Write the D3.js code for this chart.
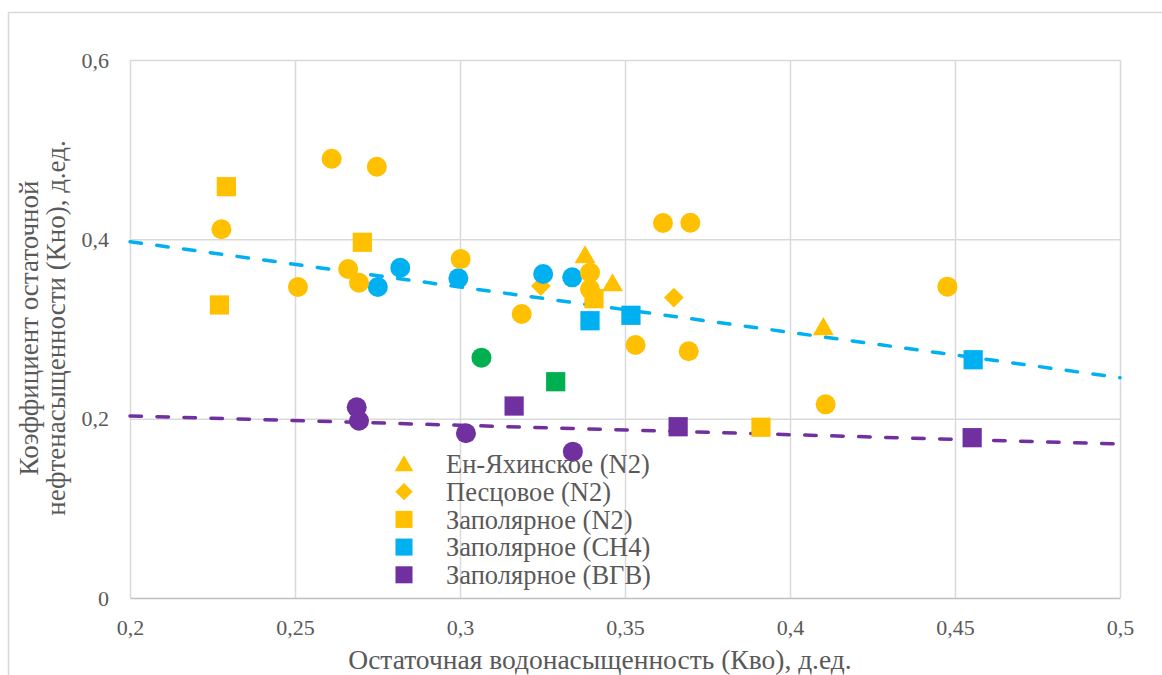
<!DOCTYPE html>
<html>
<head>
<meta charset="utf-8">
<script src="https://cdn.jsdelivr.net/npm/d3@7"></script>
<style>
  html, body { margin: 0; padding: 0; background: #fff; }
  svg { display: block; }
</style>
</head>
<body>
<svg id="chart" width="1162" height="675"></svg>
<script>
// Kво (x) and Kно (y) pairs for each field / displacing agent
const enYakhinskoeN2 = [[0.3379, 0.3822], [0.3462, 0.3510], [0.4101, 0.3020]];
const pestsovoeN2 = [[0.3245, 0.3479], [0.3648, 0.3351]];
const zapolyarnoeN2 = [[0.2292, 0.4587], [0.2271, 0.3268], [0.2704, 0.3967], [0.3406, 0.3338], [0.3912, 0.1904]];
const zapolyarnoeCH4 = [[0.3394, 0.3092], [0.3518, 0.3153], [0.4555, 0.2657]];
const zapolyarnoeVGV = [[0.3164, 0.2141], [0.3661, 0.1910], [0.4552, 0.1788]];
const greenSquares = [[0.3290, 0.2412]];
const yellowCircles = [
  [0.2277, 0.4112], [0.2611, 0.4899], [0.2748, 0.4810], [0.2509, 0.3468],
  [0.2661, 0.3669], [0.2694, 0.3516], [0.3002, 0.3780], [0.3187, 0.3167],
  [0.3394, 0.3628], [0.3394, 0.3443], [0.3615, 0.4182], [0.3698, 0.4185],
  [0.3532, 0.2821], [0.3693, 0.2752], [0.4477, 0.3472], [0.4108, 0.2160]
];
const blueCircles = [[0.2751, 0.3468], [0.2819, 0.3683], [0.2995, 0.3565], [0.3252, 0.3613], [0.3340, 0.3576]];
const greenCircles = [[0.3065, 0.2680]];
const purpleCircles = [[0.2687, 0.2127], [0.2694, 0.1977], [0.3018, 0.1837], [0.3342, 0.1632]];

// Linear trend lines (endpoints over the axis range)
const trendCH4 = [[0.2, 0.3974], [0.5, 0.2457]];
const trendVGV = [[0.2, 0.2031], [0.5, 0.1717]];

const xTicks = [0.2, 0.25, 0.3, 0.35, 0.4, 0.45, 0.5];
const yTicks = [0, 0.2, 0.4, 0.6];
const xTitle = "Остаточная водонасыщенность (Кво), д.ед.";
const yTitleLines = ["Коэффициент остаточной", "нефтенасыщенности (Кно), д.ед."];

const legendItems = [
  { label: "Ен-Яхинское (N2)", shape: "triangle", color: "#FFC000" },
  { label: "Песцовое (N2)", shape: "diamond", color: "#FFC000" },
  { label: "Заполярное (N2)", shape: "square", color: "#FFC000" },
  { label: "Заполярное (CH4)", shape: "square", color: "#00B0F0" },
  { label: "Заполярное (ВГВ)", shape: "square", color: "#7030A0" }
];

const YELLOW = "#FFC000", BLUE = "#00B0F0", PURPLE = "#7030A0", GREEN = "#00B050";
const TEXT = "#595959";
const FONT = "'Liberation Serif', 'Times New Roman', serif";

const svg = d3.select("#chart");
const plot = { left: 130, right: 1120, top: 60, bottom: 598 };

const x = d3.scaleLinear().domain([0.2, 0.5]).range([plot.left, plot.right]);
const y = d3.scaleLinear().domain([0, 0.6]).range([plot.bottom, plot.top]);

const fmt = d => String(+d.toFixed(2)).replace(".", ",");

// Chart-area frame
svg.append("rect")
  .attr("x", 8.5).attr("y", 12.5)
  .attr("width", 1170).attr("height", 700)
  .attr("fill", "none").attr("stroke", "#d9d9d9").attr("stroke-width", 1.5);

// Gridlines
const grid = svg.append("g");
grid.append("g")
  .attr("transform", `translate(0,${plot.bottom})`)
  .call(d3.axisBottom(x).tickValues(xTicks).tickSize(-(plot.bottom - plot.top)).tickFormat(""))
  .call(g => g.select(".domain").remove())
  .call(g => g.selectAll("line").attr("stroke", "#d9d9d9").attr("stroke-width", 1.5));
grid.append("g")
  .attr("transform", `translate(${plot.left},0)`)
  .call(d3.axisLeft(y).tickValues(yTicks.filter(v => v > 0)).tickSize(-(plot.right - plot.left)).tickFormat(""))
  .call(g => g.select(".domain").remove())
  .call(g => g.selectAll("line").attr("stroke", "#d9d9d9").attr("stroke-width", 1.5));

// X axis
const xAxis = svg.append("g")
  .attr("transform", `translate(0,${plot.bottom})`)
  .call(d3.axisBottom(x).tickValues(xTicks).tickSize(0).tickPadding(21).tickFormat(fmt));
xAxis.select(".domain").attr("stroke", "#bfbfbf").attr("stroke-width", 1.5);
xAxis.selectAll("text").attr("fill", TEXT).style("font-size", "22px").style("font-family", FONT);

// Y axis labels
const yAxis = svg.append("g")
  .attr("transform", `translate(${plot.left},0)`)
  .call(d3.axisLeft(y).tickValues(yTicks).tickSize(0).tickPadding(21).tickFormat(fmt));
yAxis.select(".domain").remove();
yAxis.selectAll("text").attr("fill", TEXT).style("font-size", "22px").style("font-family", FONT);

// Axis titles
svg.append("text")
  .attr("x", 600).attr("y", 669)
  .attr("text-anchor", "middle")
  .attr("fill", TEXT)
  .style("font-size", "27.5px").style("font-family", FONT)
  .text(xTitle);

const yTitle = svg.append("text")
  .attr("transform", "translate(0,328) rotate(-90)")
  .attr("text-anchor", "middle")
  .attr("fill", TEXT)
  .style("font-size", "27px").style("font-family", FONT);
yTitleLines.forEach((t, i) => {
  yTitle.append("tspan").attr("x", 0).attr("y", 38 + i * 27).text(t);
});

// Trend lines
const line = d3.line().x(d => x(d[0])).y(d => y(d[1]));
[[trendCH4, BLUE], [trendVGV, PURPLE]].forEach(([data, color]) => {
  svg.append("path")
    .datum(data)
    .attr("d", line)
    .attr("fill", "none")
    .attr("stroke", color)
    .attr("stroke-width", 3.5)
    .attr("stroke-linecap", "round")
    .attr("stroke-dasharray", "11.5 15.5");
});

// Markers
const symbolFor = { triangle: d3.symbolTriangle, diamond: d3.symbolSquare, square: d3.symbolSquare, circle: d3.symbolCircle };
const area = { triangle: 190, diamond: 196, square: 370, circle: 314 };
const rotation = { triangle: 0, diamond: 45, square: 0, circle: 0 };
const shiftY = { triangle: 2, diamond: 0, square: 0, circle: 0 };

function drawPoints(data, shape, color) {
  const sym = d3.symbol().type(symbolFor[shape]).size(area[shape]);
  svg.append("g").selectAll("path")
    .data(data)
    .join("path")
    .attr("d", sym)
    .attr("transform", d => `translate(${x(d[0])},${y(d[1]) + shiftY[shape]}) rotate(${rotation[shape]})`)
    .attr("fill", color);
}

drawPoints(pestsovoeN2, "diamond", YELLOW);
drawPoints(enYakhinskoeN2, "triangle", YELLOW);
drawPoints(zapolyarnoeN2, "square", YELLOW);
drawPoints(zapolyarnoeCH4, "square", BLUE);
drawPoints(zapolyarnoeVGV, "square", PURPLE);
drawPoints(greenSquares, "square", GREEN);
drawPoints(blueCircles, "circle", BLUE);
drawPoints(yellowCircles, "circle", YELLOW);
drawPoints(greenCircles, "circle", GREEN);
drawPoints(purpleCircles, "circle", PURPLE);

// Legend
const legendSize = { triangle: 150, diamond: 150, square: 290 };
const legend = svg.append("g").attr("transform", "translate(404,464)");
legendItems.forEach((item, i) => {
  const row = legend.append("g").attr("transform", `translate(0,${i * 27.7})`);
  row.append("path")
    .attr("d", d3.symbol().type(symbolFor[item.shape]).size(legendSize[item.shape]))
    .attr("transform", `translate(0,${shiftY[item.shape]}) rotate(${rotation[item.shape]})`)
    .attr("fill", item.color);
  row.append("text")
    .attr("x", 42).attr("y", 0)
    .attr("dy", "0.35em")
    .attr("fill", TEXT)
    .style("font-size", "26.5px").style("font-family", FONT)
    .text(item.label);
});
</script>
</body>
</html>
